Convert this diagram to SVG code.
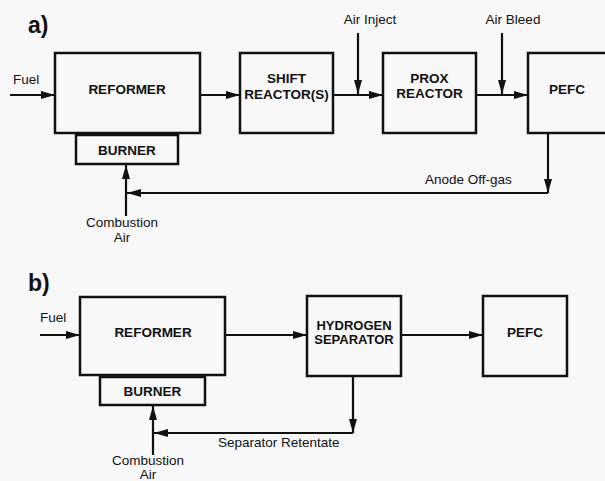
<svg xmlns="http://www.w3.org/2000/svg" width="605" height="481" viewBox="0 0 605 481">
<defs>
<marker id="ah" markerUnits="userSpaceOnUse" markerWidth="15" markerHeight="9" refX="14" refY="4.5" orient="auto">
<path d="M0,0.5 L14,4.5 L0,8.5 z" fill="#111"/>
</marker>
<style>
.box{fill:none;stroke:#111;stroke-width:2.5}
.ln{fill:none;stroke:#111;stroke-width:2.2;marker-end:url(#ah)}
.lb{font-family:"Liberation Sans",Arial,sans-serif;font-weight:bold;font-size:13.5px;fill:#111;text-anchor:middle}
.sm{font-size:13px}
.tx{font-family:"Liberation Sans",Arial,sans-serif;font-size:13.5px;fill:#111}
.hd{font-family:"Liberation Sans",Arial,sans-serif;font-weight:bold;font-size:23px;fill:#111}
</style>
</defs>
<rect width="605" height="481" fill="#f8f8f8"/>
<text class="hd" x="28" y="33">a)</text>
<text class="hd" x="28" y="291">b)</text>
<g id="a-reformer"><rect class="box" x="55" y="53" width="145" height="80"/><text class="lb" x="127" y="94">REFORMER</text></g>
<g id="a-burner"><rect class="box" x="76" y="135" width="102" height="29"/><text class="lb" x="127" y="155">BURNER</text></g>
<g id="a-shift"><rect class="box" x="240" y="53" width="93" height="80"/><text class="lb" x="286.5" y="83">SHIFT</text><text class="lb" x="286.5" y="99">REACTOR(S)</text></g>
<g id="a-prox"><rect class="box" x="383" y="53" width="93" height="80"/><text class="lb" x="429.5" y="83">PROX</text><text class="lb" x="429.5" y="98">REACTOR</text></g>
<g id="a-pefc"><rect class="box" x="528" y="53" width="80" height="80"/><text class="lb" x="567" y="94">PEFC</text></g>
<g id="b-reformer"><rect class="box" x="80" y="297" width="145" height="78"/><text class="lb" x="153" y="337">REFORMER</text></g>
<g id="b-burner"><rect class="box" x="100" y="377" width="105" height="28"/><text class="lb" x="152.5" y="396">BURNER</text></g>
<g id="b-separator"><rect class="box" x="307" y="296" width="94" height="80"/><text class="lb sm" x="354" y="330">HYDROGEN</text><text class="lb sm" x="354" y="344">SEPARATOR</text></g>
<g id="b-pefc"><rect class="box" x="483" y="296" width="84" height="80"/><text class="lb" x="525" y="337">PEFC</text></g>
<g id="connectors">
<line class="ln" x1="10" y1="95" x2="55" y2="95"/>
<line class="ln" x1="200" y1="95" x2="240" y2="95"/>
<line class="ln" x1="333" y1="95" x2="383" y2="95"/>
<line class="ln" x1="476" y1="95" x2="528" y2="95"/>
<line class="ln" x1="358" y1="33" x2="358" y2="94"/>
<line class="ln" x1="502" y1="33" x2="502" y2="94"/>
<line class="ln" x1="548" y1="134" x2="548" y2="193"/>
<line class="ln" x1="548" y1="193" x2="127" y2="193"/>
<line class="ln" x1="126" y1="216" x2="126" y2="165"/>
<line class="ln" x1="40" y1="335" x2="80" y2="335"/>
<line class="ln" x1="225" y1="335" x2="307" y2="335"/>
<line class="ln" x1="401" y1="335" x2="483" y2="335"/>
<line class="ln" x1="353" y1="376" x2="353" y2="433"/>
<line class="ln" x1="353" y1="433" x2="154" y2="433"/>
<line class="ln" x1="153" y1="455" x2="153" y2="406"/>
</g>
<text class="tx" x="13" y="84">Fuel</text>
<text class="tx" x="370" y="24" text-anchor="middle">Air Inject</text>
<text class="tx" x="513" y="24" text-anchor="middle">Air Bleed</text>
<text class="tx" x="425" y="184">Anode Off-gas</text>
<text class="tx" x="122" y="227" text-anchor="middle">Combustion</text>
<text class="tx" x="122" y="242" text-anchor="middle">Air</text>
<text class="tx" x="40" y="322">Fuel</text>
<text class="tx" x="218" y="447">Separator Retentate</text>
<text class="tx" x="148" y="465" text-anchor="middle">Combustion</text>
<text class="tx" x="148" y="479" text-anchor="middle">Air</text>
</svg>
